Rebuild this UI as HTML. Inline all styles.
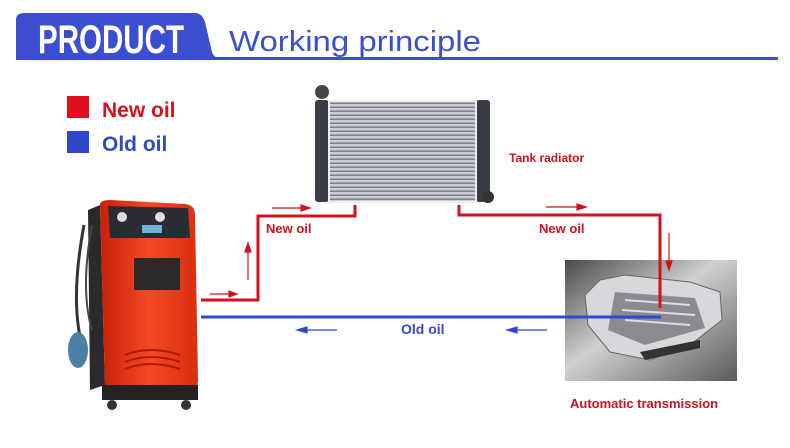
<!DOCTYPE html>
<html><head><meta charset="utf-8"><style>
html,body{margin:0;padding:0;background:#fff;width:790px;height:448px;overflow:hidden}
svg{display:block}
text{font-family:"Liberation Sans",Arial,sans-serif}
</style></head><body>
<svg width="790" height="448" viewBox="0 0 790 448" xmlns="http://www.w3.org/2000/svg">
<defs>
<linearGradient id="tg" x1="0" y1="0" x2="1" y2="1">
<stop offset="0" stop-color="#4a4a4a"/><stop offset="0.45" stop-color="#d0d0d0"/><stop offset="1" stop-color="#5a5a5a"/></linearGradient>
<pattern id="fins" width="4" height="4" patternUnits="userSpaceOnUse">
<rect width="4" height="4" fill="#c9ccd2"/><rect y="2.5" width="4" height="1.5" fill="#7b7f88"/></pattern>
<linearGradient id="mg" x1="0" x2="1"><stop offset="0" stop-color="#c8200a"/><stop offset="0.5" stop-color="#f24a22"/><stop offset="1" stop-color="#d83010"/></linearGradient>
</defs>
<!-- header -->
<path d="M16 60 L16 20 Q16 13 24 13 L195 13 Q202 13 205 22 L212 52 Q214 58 220 58 L778 58 L778 60 Z" fill="#3b4ed0"/>
<rect x="215" y="57" width="563" height="2" fill="#3b4ed0"/>
<text x="38" y="53" font-size="40" font-weight="bold" fill="#fff" textLength="146" lengthAdjust="spacingAndGlyphs">PRODUCT</text>
<text x="229" y="51" font-size="29" fill="#3b4ed0" textLength="252" lengthAdjust="spacingAndGlyphs">Working principle</text>
<!-- legend -->
<rect x="67" y="96" width="22" height="22" fill="#e0101c"/>
<text x="102" y="117" font-size="21" font-weight="bold" fill="#d8101c">New oil</text>
<rect x="67" y="131" width="22" height="22" fill="#3048cc"/>
<text x="102" y="151" font-size="21" font-weight="bold" fill="#3048cc">Old oil</text>
<!-- radiator -->
<rect x="315" y="100" width="14" height="102" rx="3" fill="#3a3d44"/>
<rect x="476" y="100" width="14" height="102" rx="3" fill="#3a3d44"/>
<circle cx="322" cy="92" r="7" fill="#444"/>
<circle cx="488" cy="197" r="6" fill="#333"/>
<rect x="329" y="101" width="147" height="101" fill="url(#fins)"/>
<rect x="329" y="101" width="147" height="101" fill="none" stroke="#eee" stroke-width="2"/>
<!-- red lines -->
<polyline points="201,300 258,300 258,216 355,216 355,205" fill="none" stroke="#d4101c" stroke-width="3"/>
<polyline points="459,205 459,215 660,215 660,308" fill="none" stroke="#d4101c" stroke-width="3"/>
<!-- transmission -->
<rect x="565" y="260" width="172" height="121" fill="url(#tg)"/>
<path d="M585 295 L600 280 L625 275 L690 282 L720 292 L722 320 L690 345 L650 360 L610 352 L588 325 Z" fill="#d8d8dc" stroke="#666" stroke-width="1"/>
<path d="M615 292 L695 298 L705 328 L645 345 L608 330 Z" fill="#8a8a90"/>
<path d="M625 300 L690 305 M622 310 L695 315 M625 320 L690 325" stroke="#ddd" stroke-width="2"/>
<path d="M640 352 L700 340 L700 348 L645 360 Z" fill="#333"/>
<line x1="660" y1="260" x2="660" y2="308" stroke="#d4101c" stroke-width="3"/>
<!-- blue line -->
<line x1="201" y1="317" x2="661" y2="317" stroke="#3048cc" stroke-width="3"/>
<!-- small arrows -->
<g stroke="#d4101c" stroke-width="1.2" fill="#d4101c">
<line x1="210" y1="294" x2="232" y2="294"/><path d="M237 294 L229 291 L229 297 Z"/>
<line x1="248" y1="280" x2="248" y2="250"/><path d="M248 243 L245 252 L251 252 Z"/>
<line x1="272" y1="208" x2="303" y2="208"/><path d="M310 208 L301 205 L301 211 Z"/>
<line x1="546" y1="207" x2="578" y2="207"/><path d="M586 207 L577 204 L577 210 Z"/>
<line x1="669" y1="233" x2="669" y2="263"/><path d="M669 270 L666 261 L672 261 Z"/>
</g>
<g stroke="#3048cc" stroke-width="1.2" fill="#3048cc">
<line x1="305" y1="330" x2="337" y2="330"/><path d="M297 330 L307 327 L307 333 Z"/>
<line x1="515" y1="330" x2="547" y2="330"/><path d="M507 330 L517 327 L517 333 Z"/>
</g>
<!-- labels -->
<text x="266" y="233" font-size="13" font-weight="bold" fill="#d4101c">New oil</text>
<text x="539" y="233" font-size="13" font-weight="bold" fill="#d4101c">New oil</text>
<text x="401" y="334" font-size="14" font-weight="bold" fill="#3048cc">Old oil</text>
<text x="509" y="162" font-size="12" font-weight="bold" fill="#d4101c">Tank radiator</text>
<text x="570" y="408" font-size="13" font-weight="bold" fill="#d4101c">Automatic transmission</text>
<!-- machine -->
<path d="M88 210 L100 205 L105 385 L90 390 Z" fill="#2a2a2a"/>
<path d="M84 225 Q70 300 82 345" fill="none" stroke="#333" stroke-width="3"/>
<path d="M92 225 Q80 290 92 330" fill="none" stroke="#444" stroke-width="2"/>
<ellipse cx="78" cy="350" rx="10" ry="18" fill="#4a7fa6"/>
<path d="M100 205 Q100 200 110 200 L185 204 Q195 205 195 215 L198 380 Q198 390 190 392 L115 395 Q105 395 105 385 Z" fill="url(#mg)"/>
<path d="M108 206 L188 208 L190 238 L110 238 Z" fill="#2b2b33"/>
<circle cx="122" cy="217" r="5" fill="#ddd"/><circle cx="160" cy="217" r="5" fill="#ddd"/>
<rect x="142" y="225" width="20" height="8" fill="#6fb3d8"/>
<path d="M134 258 L180 258 L180 290 L134 290 Z" fill="#2a2a2a"/>
<path d="M102 385 L198 385 L198 400 L102 400 Z" fill="#222"/>
<circle cx="112" cy="405" r="5" fill="#333"/><circle cx="186" cy="405" r="5" fill="#333"/>
<g stroke="#b01808" stroke-width="2" fill="none">
<path d="M125 355 Q150 345 180 355"/><path d="M125 362 Q150 352 180 362"/><path d="M125 369 Q150 359 180 369"/>
</g>
</svg>
</body></html>
